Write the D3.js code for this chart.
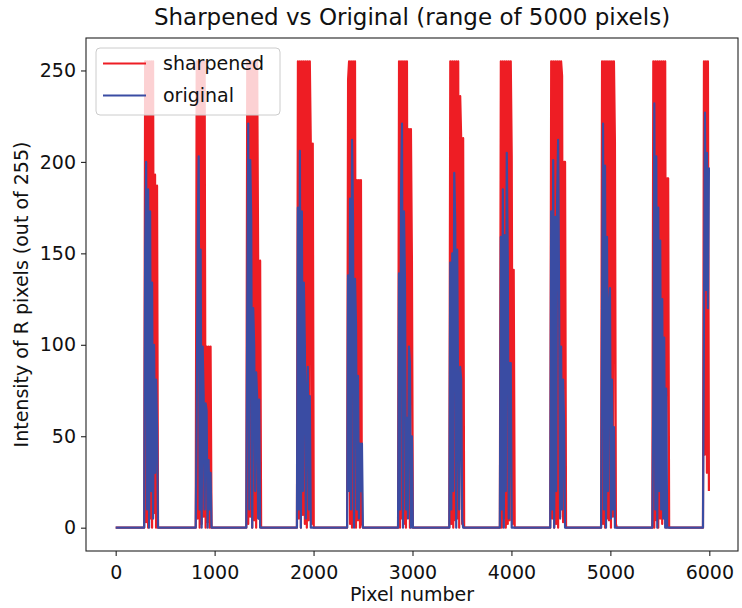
<!DOCTYPE html>
<html>
<head>
<meta charset="utf-8">
<script src="https://cdn.jsdelivr.net/npm/d3@7"></script>
<style>
  body { margin: 0; background: #fff; }
  text { font-family: "DejaVu Sans", sans-serif; fill: #111; }
</style>
</head>
<body>
<div id="chart"></div>
<script>
// Chart values, x in pixel number, y in 0..255
const dataLength = 5996;
const xTicks = [0, 1000, 2000, 3000, 4000, 5000, 6000];
const yTicks = [0, 50, 100, 150, 200, 250];
const seriesNames = ["sharpened", "original"];

// start of each burst, samples every 10 pixels
const burstStart = [298, 819, 1330, 1842, 2349, 2864, 3382, 3893, 4402, 4916, 5434, 5946];
const sampleStep = 10;

const sharpenedBursts = [
    [255, 3, 255, 0, 255, 5, 255, 0, 255, 8, 193, 0, 187, 0],
    [255, 5, 255, 0, 255, 2, 255, 6, 255, 0, 99, 3, 99, 0, 99, 0],
    [255, 2, 255, 6, 255, 0, 255, 4, 255, 0, 255, 146, 5, 146, 0],
    [255, 5, 255, 0, 255, 7, 255, 2, 255, 0, 255, 4, 255, 210, 2, 210, 0],
    [245, 255, 2, 255, 0, 255, 5, 255, 0, 190, 4, 190, 0, 190, 2, 0],
    [255, 0, 255, 5, 255, 2, 255, 0, 255, 6, 218, 0, 218, 148, 0],
    [255, 2, 255, 0, 255, 4, 255, 5, 255, 0, 236, 213, 2, 213, 0],
    [255, 0, 255, 5, 255, 0, 255, 2, 255, 4, 255, 203, 2, 141, 0],
    [255, 5, 255, 0, 255, 2, 255, 0, 255, 6, 255, 247, 3, 200, 200, 0],
    [255, 2, 255, 0, 255, 5, 255, 4, 255, 0, 255, 6, 255, 211, 2, 0],
    [255, 0, 255, 4, 255, 0, 255, 5, 255, 2, 255, 7, 255, 0, 191, 191, 0],
    [255, 40, 255, 30, 255, 20]
];

const originalBursts = [
    [152, 200, 10, 185, 0, 173, 20, 134, 5, 100, 30, 81, 55, 0],
    [60, 159, 203, 10, 152, 0, 99, 72, 10, 68, 64, 0, 37, 10, 30, 0],
    [120, 221, 10, 201, 169, 0, 120, 99, 20, 85, 71, 5, 70, 0, 0],
    [175, 10, 206, 0, 173, 20, 134, 99, 5, 70, 88, 10, 72, 0, 0, 0, 0],
    [138, 20, 180, 10, 212, 168, 0, 136, 111, 10, 83, 5, 46, 20, 46, 0],
    [139, 10, 180, 221, 0, 173, 134, 10, 60, 5, 99, 90, 0, 50, 0],
    [145, 10, 150, 20, 194, 166, 0, 152, 60, 10, 88, 81, 5, 0, 0],
    [159, 10, 185, 0, 160, 20, 205, 148, 5, 90, 90, 0, 0, 0, 0],
    [173, 10, 201, 0, 170, 20, 180, 212, 124, 5, 99, 10, 81, 58, 0, 0],
    [118, 221, 10, 198, 0, 159, 20, 120, 131, 5, 81, 10, 55, 0, 0, 0],
    [71, 232, 10, 203, 0, 175, 20, 157, 10, 125, 5, 104, 0, 76, 0, 0, 0],
    [113, 227, 130, 205, 120, 197]
];

// build full series: zero baseline with the bursts in between
function buildSeries(bursts) {
    const pts = [[0, 0]];
    bursts.forEach(function (vals, i) {
        const s = burstStart[i];
        pts.push([s - sampleStep, 0]);
        vals.forEach(function (v, j) { pts.push([s + j * sampleStep, v]); });
    });
    const last = pts[pts.length - 1];
    if (last[0] < dataLength) pts.push([dataLength, last[1]]);
    return pts;
}
const sharpened = buildSeries(sharpenedBursts);
const original = buildSeries(originalBursts);

const W = 742, H = 608;
const margin = { top: 38, right: 4, bottom: 57, left: 86 };
const width = W - margin.left - margin.right,
    height = H - margin.top - margin.bottom;

const svg = d3.select("#chart").append("svg")
    .attr("width", W).attr("height", H);

const g = svg.append("g")
    .attr("transform", `translate(${margin.left}, ${margin.top})`);

const x = d3.scaleLinear().domain([-300, 6290]).range([0, width]);
const y = d3.scaleLinear().domain([-12.75, 267.75]).range([height, 0]);

g.append("clipPath").attr("id", "clip")
    .append("rect").attr("width", width).attr("height", height);

const line = d3.line().x(d => x(d[0])).y(d => y(d[1]));

const colors = ["#ee1d24", "#3a4ca3"];

g.append("path").datum(sharpened)
    .attr("clip-path", "url(#clip)")
    .attr("d", line).attr("fill", "none")
    .attr("stroke", colors[0]).attr("stroke-width", 2.2)
    .attr("stroke-linejoin", "round");

g.append("path").datum(original)
    .attr("clip-path", "url(#clip)")
    .attr("d", line).attr("fill", "none")
    .attr("stroke", colors[1]).attr("stroke-width", 2.2)
    .attr("stroke-linejoin", "round");

// axes
const xAxis = g.append("g").attr("transform", `translate(0, ${height})`)
    .call(d3.axisBottom(x).tickValues(xTicks).tickFormat(d3.format("d")).tickSize(5).tickPadding(5));
const yAxis = g.append("g")
    .call(d3.axisLeft(y).tickValues(yTicks).tickFormat(d3.format("d")).tickSize(5).tickPadding(5));
[xAxis, yAxis].forEach(function (a) {
    a.select(".domain").remove();
    a.selectAll(".tick line").attr("stroke", "#222").attr("stroke-width", 1.1);
    a.selectAll(".tick text").style("font-size", "19px").attr("fill", "#111");
});
xAxis.selectAll(".tick text").attr("dy", "0.95em");

// frame
g.append("rect").attr("width", width).attr("height", height)
    .attr("fill", "none").attr("stroke", "#222").attr("stroke-width", 1.1);

// title and labels
svg.append("text").attr("x", margin.left + width / 2).attr("y", 25)
    .attr("text-anchor", "middle").style("font-size", "23px")
    .text("Sharpened vs Original (range of 5000 pixels)");

svg.append("text").attr("x", margin.left + width / 2).attr("y", 601)
    .attr("text-anchor", "middle").style("font-size", "19px")
    .text("Pixel number");

svg.append("text")
    .attr("transform", `translate(28, ${margin.top + height / 2}) rotate(-90)`)
    .attr("text-anchor", "middle").style("font-size", "19px")
    .text("Intensity of R pixels (out of 255)");

// legend
const leg = g.append("g").attr("transform", "translate(10, 10)");
leg.append("rect").attr("width", 184).attr("height", 67).attr("rx", 4)
    .attr("fill", "#fff").attr("fill-opacity", 0.8)
    .attr("stroke", "#cccccc").attr("stroke-width", 1);
seriesNames.forEach(function (name, i) {
    const cy = 15.5 + i * 32;
    leg.append("line").attr("x1", 7).attr("x2", 50).attr("y1", cy).attr("y2", cy)
        .attr("stroke", colors[i]).attr("stroke-width", 2.2);
    leg.append("text").attr("x", 67).attr("y", cy).attr("dy", "0.35em")
        .style("font-size", "19px").text(name);
});
</script>
</body>
</html>
